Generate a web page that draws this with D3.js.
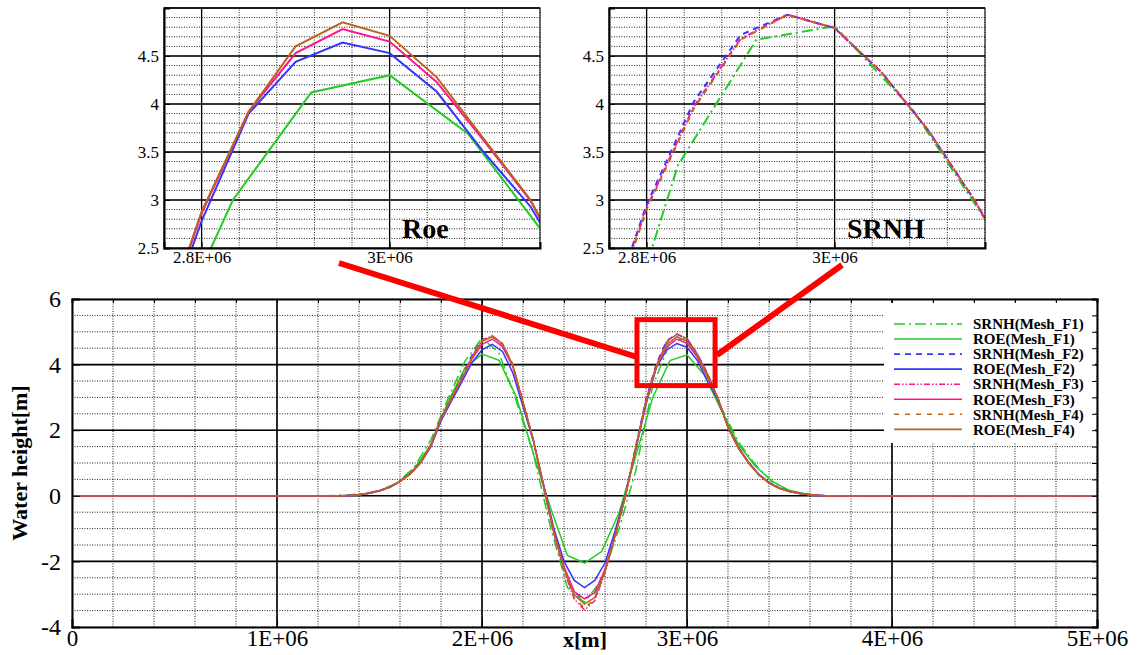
<!DOCTYPE html>
<html>
<head>
<meta charset="utf-8">
<script src="https://cdn.jsdelivr.net/npm/d3@7"></script>
<style>
  body { margin: 0; background: #fff; }
  svg { display: block; font-family: "Liberation Serif", "Times New Roman", serif; }
</style>
</head>
<body>
<div id="chart"></div>
<script>
// mesh positions, in units of 1E+06 m
const xMeshF1 = [0, 1.25, 1.3333, 1.4167, 1.5, 1.5833, 1.6667, 1.75, 1.8333, 1.9167,
  2.0, 2.0833, 2.1667, 2.25, 2.3333, 2.4167, 2.5, 2.5833, 2.6667, 2.75,
  2.8333, 2.9167, 3.0, 3.0833, 3.1667, 3.25, 3.3333, 3.4167, 3.5, 3.5833,
  3.6667, 3.75, 5.0];
const xMeshFine = [0, 1.25, 1.30, 1.35, 1.40, 1.45, 1.50, 1.55, 1.60, 1.65,
  1.70, 1.75, 1.80, 1.85, 1.90, 1.95, 2.00, 2.05, 2.10, 2.15,
  2.20, 2.25, 2.30, 2.35, 2.40, 2.45, 2.50, 2.55, 2.60, 2.65,
  2.70, 2.75, 2.80, 2.85, 2.90, 2.95, 3.00, 3.05, 3.10, 3.15,
  3.20, 3.25, 3.30, 3.35, 3.40, 3.45, 3.50, 3.55, 3.60, 3.65,
  3.70, 3.75, 5.0];

// water height [m]
const srnhF1 = [0, 0, 0.02, 0.06, 0.16, 0.38, 0.85, 1.70, 2.95, 4.10,
  4.81, 4.35, 2.90, 1.30, -0.93, -2.80, -3.25, -2.56, -1.04, 0.76,
  3.36, 4.67, 4.81, 3.94, 2.70, 1.65, 0.95, 0.42, 0.15, 0.05,
  0.01, 0, 0];
const roeF1 = [0, 0, 0.01, 0.05, 0.15, 0.37, 0.80, 1.55, 2.85, 3.90,
  4.32, 4.13, 3.03, 1.30, -0.35, -1.82, -2.05, -1.70, -0.55, 1.21,
  3.00, 4.12, 4.30, 3.69, 2.62, 1.58, 0.90, 0.44, 0.16, 0.05,
  0.01, 0, 0];
const srnhF2 = [0, 0, 0.005, 0.01, 0.03, 0.08, 0.15, 0.26, 0.45, 0.68,
  1.02, 1.55, 2.38, 2.98, 3.60, 4.28, 4.75, 4.86, 4.62, 3.98,
  2.82, 1.70, 0.28, -1.12, -2.22, -2.95, -3.15, -2.95, -2.28, -1.16,
  0.04, 1.52, 2.95, 4.02, 4.72, 4.93, 4.79, 4.33, 3.72, 2.98,
  2.10, 1.48, 1.02, 0.65, 0.40, 0.23, 0.13, 0.07, 0.03, 0.01,
  0, 0, 0];
const roeF2 = [0, 0, 0.005, 0.01, 0.03, 0.08, 0.16, 0.27, 0.44, 0.67,
  1.00, 1.48, 2.28, 2.88, 3.45, 4.05, 4.45, 4.62, 4.40, 3.75,
  2.72, 1.68, 0.36, -0.98, -2.00, -2.58, -2.80, -2.58, -2.05, -1.05,
  0.05, 1.40, 2.78, 3.90, 4.44, 4.64, 4.53, 4.13, 3.50, 2.93,
  2.10, 1.48, 1.02, 0.66, 0.41, 0.24, 0.14, 0.08, 0.03, 0.01,
  0, 0, 0];
const srnhF3 = [0, 0, 0.005, 0.01, 0.03, 0.08, 0.15, 0.26, 0.44, 0.67,
  1.01, 1.54, 2.37, 2.97, 3.58, 4.24, 4.74, 4.88, 4.64, 4.00,
  2.85, 1.70, 0.25, -1.15, -2.28, -3.15, -3.48, -3.20, -2.35, -1.22,
  0.00, 1.48, 2.92, 3.97, 4.68, 4.93, 4.79, 4.33, 3.72, 2.98,
  2.10, 1.48, 1.02, 0.65, 0.40, 0.23, 0.13, 0.07, 0.03, 0.01,
  0, 0, 0];
const roeF3 = [0, 0, 0.005, 0.01, 0.03, 0.08, 0.15, 0.26, 0.44, 0.67,
  1.01, 1.52, 2.34, 2.94, 3.54, 4.16, 4.62, 4.78, 4.55, 3.94,
  2.84, 1.72, 0.32, -1.06, -2.16, -2.92, -3.14, -2.95, -2.24, -1.18,
  0.00, 1.44, 2.86, 3.92, 4.53, 4.78, 4.65, 4.23, 3.62, 2.99,
  2.08, 1.46, 1.00, 0.64, 0.39, 0.23, 0.13, 0.07, 0.03, 0.01,
  0, 0, 0];
const srnhF4 = [0, 0, 0.005, 0.01, 0.03, 0.08, 0.15, 0.26, 0.44, 0.67,
  1.01, 1.53, 2.36, 2.96, 3.57, 4.22, 4.73, 4.88, 4.64, 4.00,
  2.86, 1.71, 0.27, -1.13, -2.25, -3.12, -3.42, -3.15, -2.33, -1.21,
  0.00, 1.47, 2.90, 3.95, 4.67, 4.93, 4.79, 4.33, 3.72, 2.98,
  2.10, 1.48, 1.02, 0.65, 0.40, 0.23, 0.13, 0.07, 0.03, 0.01,
  0, 0, 0];
const roeF4 = [0, 0, 0.005, 0.01, 0.03, 0.08, 0.15, 0.26, 0.44, 0.66,
  1.00, 1.52, 2.35, 2.95, 3.55, 4.20, 4.71, 4.85, 4.62, 3.99,
  2.85, 1.72, 0.30, -1.10, -2.20, -3.02, -3.30, -3.10, -2.30, -1.20,
  0.00, 1.45, 2.88, 3.92, 4.60, 4.85, 4.71, 4.28, 3.64, 3.00,
  2.08, 1.45, 1.00, 0.64, 0.39, 0.23, 0.13, 0.07, 0.03, 0.01,
  0, 0, 0];

const seriesNames = ['SRNH(Mesh_F1)', 'ROE(Mesh_F1)', 'SRNH(Mesh_F2)', 'ROE(Mesh_F2)',
  'SRNH(Mesh_F3)', 'ROE(Mesh_F3)', 'SRNH(Mesh_F4)', 'ROE(Mesh_F4)'];

// tick labels
const yTicksMain = [6, 4, 2, 0, -2, -4];
const yTickLabelsMain = ['6', '4', '2', '0', '-2', '-4'];
const xTicksMain = [0, 1, 2, 3, 4, 5];
const xTickLabelsMain = ['0', '1E+06', '2E+06', '3E+06', '4E+06', '5E+06'];
const yTicksInset = [2.5, 3, 3.5, 4, 4.5];
const yTickLabelsInset = ['2.5', '3', '3.5', '4', '4.5'];
const xTicksInset = [2.8, 3.0];
const xTickLabelsInset = ['2.8E+06', '3E+06'];

const colors = ['#22cc22', '#22cc22', '#3535ff', '#3535ff', '#ff1493', '#ff1493', '#b8651e', '#b8651e'];
const dashes = ['11,4,2,4', null, '6,5', null, '6,2,1.5,2,1.5,2', null, '5,6', null];

const series = [
  { x: xMeshF1, y: srnhF1 }, { x: xMeshF1, y: roeF1 },
  { x: xMeshFine, y: srnhF2 }, { x: xMeshFine, y: roeF2 },
  { x: xMeshFine, y: srnhF3 }, { x: xMeshFine, y: roeF3 },
  { x: xMeshFine, y: srnhF4 }, { x: xMeshFine, y: roeF4 },
].map((s, i) => ({
  name: seriesNames[i], color: colors[i], dash: dashes[i], srnh: i % 2 === 0,
  points: s.x.map((xv, j) => [xv, s.y[j]])
}));

const width = 1137, height = 655;
const svg = d3.select('#chart').append('svg')
  .attr('width', width).attr('height', height);

function range(a, b, step) {
  const n = Math.round((b - a) / step);
  return d3.range(n + 1).map(i => +(a + i * step).toFixed(6));
}

function drawGrid(g, x, y, xMinor, xMajor, yMinor, yMajor, majorWidth) {
  const [xa, xb] = x.range(), [ya, yb] = y.range();
  const minor = g.append('g').attr('stroke', '#222').attr('stroke-width', 1).attr('stroke-dasharray', '1,1.5');
  minor.selectAll('.vx').data(xMinor).join('line')
    .attr('x1', d => x(d)).attr('x2', d => x(d)).attr('y1', ya).attr('y2', yb);
  minor.selectAll('.hy').data(yMinor).join('line')
    .attr('y1', d => y(d)).attr('y2', d => y(d)).attr('x1', xa).attr('x2', xb);
  const major = g.append('g').attr('stroke', '#000').attr('stroke-width', majorWidth);
  major.selectAll('.vx').data(xMajor).join('line')
    .attr('x1', d => x(d)).attr('x2', d => x(d)).attr('y1', ya).attr('y2', yb);
  major.selectAll('.hy').data(yMajor).join('line')
    .attr('y1', d => y(d)).attr('y2', d => y(d)).attr('x1', xa).attr('x2', xb);
}

function styleAxis(g, size) {
  g.attr('font-family', '"Liberation Serif", "Times New Roman", serif').attr('font-size', size);
  g.selectAll('text').attr('fill', '#000');
  g.select('.domain').attr('stroke-width', 2);
}

// ---------- main chart ----------
const x = d3.scaleLinear().domain([0, 5]).range([72, 1097]);
const y = d3.scaleLinear().domain([-4, 6]).range([627, 299]);

drawGrid(svg.append('g'), x, y, range(0, 5, 0.2), [1, 2, 3, 4], range(-4, 6, 0.5), [-2, 0, 2, 4], 1.6);

const line = d3.line().x(d => x(d[0])).y(d => y(d[1]));
svg.append('g').attr('fill', 'none')
  .selectAll('path').data(series).join('path')
  .attr('d', d => line(d.points))
  .attr('stroke', d => d.color)
  .attr('stroke-width', 1.5)
  .attr('stroke-dasharray', d => d.dash);

// legend
const legend = svg.append('g');
legend.append('rect').attr('x', 884).attr('y', 303).attr('width', 211).attr('height', 140).attr('fill', '#fff');
const rows = legend.selectAll('g.row').data(series).join('g')
  .attr('transform', (d, i) => `translate(894,${324 + i * 15.05})`);
rows.append('line').attr('x1', 0).attr('x2', 68)
  .attr('stroke', d => d.color).attr('stroke-width', 1.6).attr('stroke-dasharray', d => d.dash);
rows.append('text').attr('x', 79).attr('dy', '0.35em')
  .attr('font-size', 15).attr('font-weight', 'bold').text(d => d.name);

// axes
const yAxis = svg.append('g').attr('transform', 'translate(72,0)')
  .call(d3.axisLeft(y).tickValues(yTicksMain).tickFormat((d, i) => yTickLabelsMain[i]).tickSize(-8).tickPadding(11));
styleAxis(yAxis, 24);
const xAxis = svg.append('g').attr('transform', 'translate(0,627)')
  .call(d3.axisBottom(x).tickValues(xTicksMain).tickFormat((d, i) => xTickLabelsMain[i]).tickSize(-8).tickPadding(3));
styleAxis(xAxis, 23);
svg.append('g').attr('transform', 'translate(0,299)')
  .call(d3.axisTop(x).ticks(25).tickFormat('').tickSize(-4))
  .call(g => g.select('.domain').attr('stroke-width', 2));
svg.append('g').attr('transform', 'translate(1097,0)')
  .call(d3.axisRight(y).ticks(20).tickFormat('').tickSize(-5))
  .call(g => g.select('.domain').attr('stroke-width', 2));

svg.append('text').attr('x', 585).attr('y', 647).attr('text-anchor', 'middle')
  .attr('font-size', 22).attr('font-weight', 'bold').text('x[m]');
svg.append('text').attr('transform', 'translate(27,463) rotate(-90)').attr('text-anchor', 'middle')
  .attr('font-size', 22).attr('font-weight', 'bold').text('Water height[m]');

// ---------- zoomed insets ----------
function inset(left, label, srnh, id) {
  const xi = d3.scaleLinear().domain([2.76, 3.16]).range([left, left + 376]);
  const yi = d3.scaleLinear().domain([2.5, 5.0]).range([248, 8]);
  const g = svg.append('g');
  g.append('rect').attr('x', left).attr('y', 8).attr('width', 376).attr('height', 240).attr('fill', '#fff');
  drawGrid(g, xi, yi, range(2.76, 3.16, 0.04), [2.8, 3.0], range(2.5, 5.0, 0.1), [3, 3.5, 4, 4.5, 5], 1.3);
  svg.append('clipPath').attr('id', id).append('rect')
    .attr('x', left).attr('y', 8).attr('width', 376).attr('height', 240);
  const li = d3.line().x(d => xi(d[0])).y(d => yi(d[1]));
  g.append('g').attr('fill', 'none').attr('clip-path', `url(#${id})`)
    .selectAll('path').data(series.filter(s => s.srnh === srnh)).join('path')
    .attr('d', d => li(d.points))
    .attr('stroke', d => d.color)
    .attr('stroke-width', 2)
    .attr('stroke-dasharray', d => d.dash);
  g.append('rect').attr('x', left).attr('y', 8).attr('width', 376).attr('height', 240)
    .attr('fill', 'none').attr('stroke', '#000').attr('stroke-width', 1);
  const ya = g.append('g').attr('transform', `translate(${left},0)`)
    .call(d3.axisLeft(yi).tickValues(yTicksInset).tickFormat((d, i) => yTickLabelsInset[i]).tickSize(-6).tickPadding(5));
  styleAxis(ya, 17);
  const xa = g.append('g').attr('transform', 'translate(0,248)')
    .call(d3.axisBottom(xi).tickValues(xTicksInset).tickFormat((d, i) => xTickLabelsInset[i]).tickSize(-6).tickPadding(3));
  styleAxis(xa, 17);
  g.append('text').attr('x', left + 238).attr('y', 238)
    .attr('font-size', 28).attr('font-weight', 'bold').text(label);
}
inset(164, 'Roe', false, 'clipRoe');
inset(609, 'SRNH', true, 'clipSrnh');

// red callouts
const red = svg.append('g').attr('stroke', '#ff0000').attr('fill', 'none');
red.append('rect')
  .attr('x', x(2.756)).attr('y', y(5.37))
  .attr('width', x(3.137) - x(2.756)).attr('height', y(3.36) - y(5.37))
  .attr('stroke-width', 5);
red.append('line').attr('x1', 339).attr('y1', 263).attr('x2', 637).attr('y2', 357).attr('stroke-width', 6);
red.append('line').attr('x1', 717).attr('y1', 355).attr('x2', 842).attr('y2', 265).attr('stroke-width', 6);
</script>
</body>
</html>
